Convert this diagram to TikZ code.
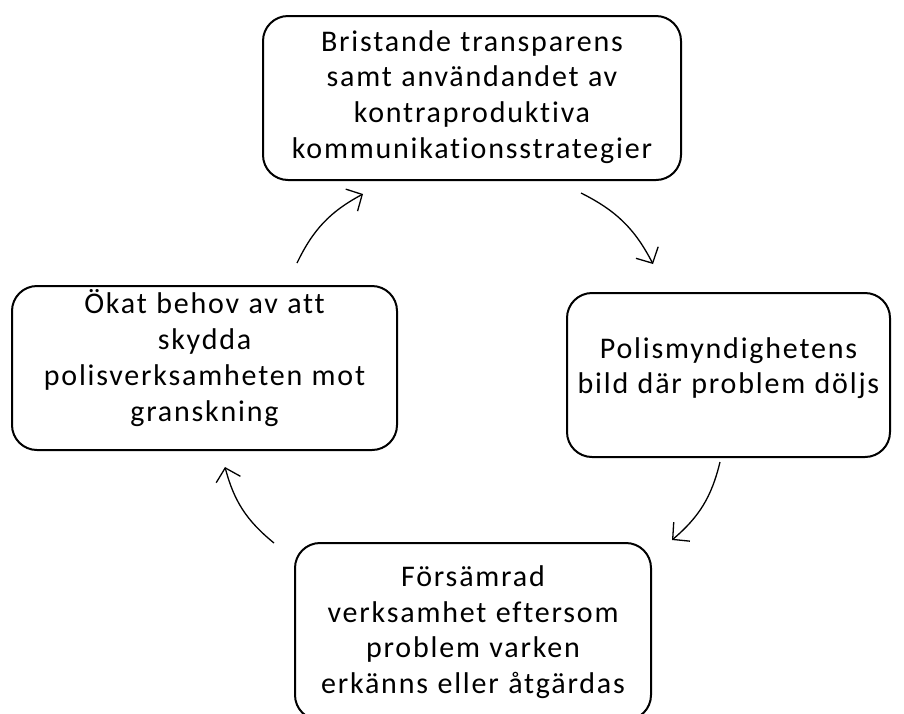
\documentclass[tikz,border=0pt]{standalone}
\usepackage{fontspec}
\setmainfont{Carlito}[LetterSpace=6, Ligatures={NoCommon}, WordSpace={1.1}]
\usetikzlibrary{arrows.meta}
\tikzset{
  box/.style={draw=black, line width=2pt, rounded corners=25pt, inner sep=0pt},
  txt/.style={align=center, font=\fontsize{30}{35.7}\selectfont, inner sep=0pt},
  cyc/.style={draw=black, line width=1.3pt, -{Straight Barb[length=12pt,width=25pt,line width=1.3pt]}, bend left=18}
}
\begin{document}
\begin{tikzpicture}[x=1pt,y=1pt]
\useasboundingbox (0,0) rectangle (904,-713);
% boxes
\node[box, minimum width=418pt, minimum height=164pt] (top) at (472,-98) {};
\node[box, minimum width=323pt, minimum height=164pt] (right) at (728.5,-375) {};
\node[box, minimum width=356pt, minimum height=177pt] (bottom) at (473,-631.5) {};
\node[box, minimum width=385pt, minimum height=164pt] (left) at (204.5,-368) {};
% texts
\node[txt] (toptext) at (472,-97) {Bristande transparens\\samt användandet av\\kontraproduktiva\\kommunikationsstrategier};
\node[txt] (righttext) at (728.5,-368) {Polismyndighetens\\bild där problem döljs};
\node[txt] (bottomtext) at (473,-632) {Försämrad\\verksamhet eftersom\\problem varken\\erkänns eller åtgärdas};
\node[txt] (lefttext) at (204.5,-358) {Ökat behov av att\\skydda\\polisverksamheten mot\\granskning};
% arrow end points
\coordinate (a1s) at (297,-263);
\coordinate (a1e) at (363,-194);
\coordinate (a2s) at (581,-193);
\coordinate (a2e) at (653,-264);
\coordinate (a3s) at (720,-462);
\coordinate (a3e) at (672,-540);
\coordinate (a4s) at (274,-543);
\coordinate (a4e) at (225,-467);
\draw[cyc] (a1s) to (a1e);
\draw[cyc] (a2s) to (a2e);
\draw[cyc] (a3s) to (a3e);
\draw[cyc] (a4s) to (a4e);
\end{tikzpicture}
\end{document}
